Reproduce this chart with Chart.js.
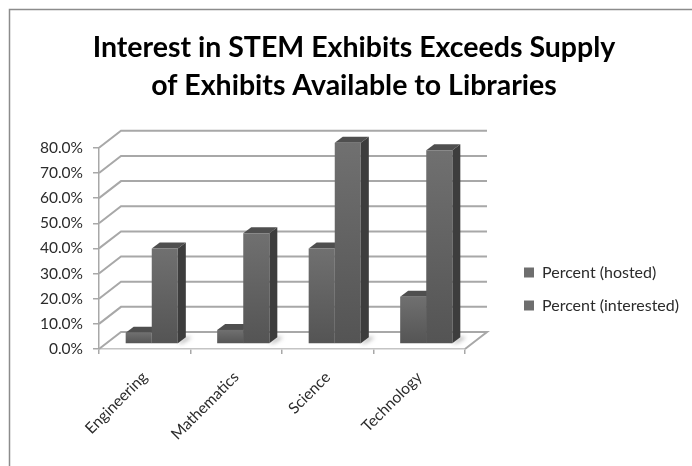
<!DOCTYPE html>
<html>
<head>
<meta charset="utf-8">
<style>
  html, body { margin: 0; padding: 0; background: #fff; }
  #wrap { position: relative; width: 692px; height: 466px; }
</style>
<script src="https://cdn.jsdelivr.net/npm/chart.js@4/dist/chart.umd.min.js"></script>
</head>
<body>
<div id="wrap"><canvas id="chart" width="692" height="466"></canvas></div>
<script>
var categories = ["Engineering", "Mathematics", "Science", "Technology"];
var hosted = [4.5, 5.6, 38, 18.8];
var interested = [38, 44, 80, 77];
var titleLines = ["Interest in STEM Exhibits Exceeds Supply", "of Exhibits Available to Libraries"];

var gridColor = '#a8a8a8';
var wallX = 22, wallY = 17;   // depth of the back wall
var barX = 7, barY = 5;       // bars stand in the middle of the floor
var depthX = 8, depthY = 6;   // depth of one bar

function barFill(ctx) {
    var s = ctx.chart.scales.y;
    var top = s ? s.getPixelForValue(ctx.raw) : NaN;
    var bottom = s ? s.getPixelForValue(0) : NaN;
    if (ctx.type !== 'data' || !isFinite(top) || !isFinite(bottom)) return '#6a6a6a';
    var g = ctx.chart.ctx.createLinearGradient(0, top, 0, bottom);
    g.addColorStop(0, '#707070');
    g.addColorStop(1, '#545454');
    return g;
}

var frame = {
    id: 'frame',
    beforeDraw: function(chart) {
        var c = chart.ctx;
        c.save();
        c.strokeStyle = '#8c8c8c';
        c.lineWidth = 1.5;
        c.beginPath();
        c.moveTo(9.5, 466);
        c.lineTo(9.5, 9.5);
        c.lineTo(692, 9.5);
        c.stroke();
        c.restore();
    }
};

var depth3d = {
    id: 'depth3d',
    afterLayout: function(chart) {
        var l = chart.legend;
        var h = l.bottom - l.top;
        l.left = 507; l.right = 692;
        l.top = 289 - h / 2; l.bottom = 289 + h / 2;
        // title is centred on the whole frame, not the padded box
        var t = chart.titleBlock;
        t.left = 16; t.right = 692;
        t.top -= 43; t.bottom -= 43;
    },
    beforeDatasetsDraw: function(chart) {
        var c = chart.ctx, a = chart.chartArea, y = chart.scales.y;
        c.save();
        // wall lines
        c.strokeStyle = gridColor;
        c.lineWidth = 2;
        y.ticks.forEach(function(t) {
            var p = y.getPixelForValue(t.value);
            c.beginPath();
            c.moveTo(a.left, p);
            c.lineTo(a.left + wallX, p - wallY);
            c.lineTo(a.right + wallX, p - wallY);
            if (t.value === 0) c.lineTo(a.right, p);
            c.stroke();
        });
        c.restore();

        c.save();
        c.translate(barX, -barY);
        var metas = [chart.getDatasetMeta(0), chart.getDatasetMeta(1)];
        // floor shadow
        c.save();
        c.filter = 'blur(2px)';
        c.fillStyle = 'rgba(90,90,90,0.55)';
        metas[1].data.forEach(function(b) {
            var r = b.x + b.width / 2;
            c.beginPath();
            c.moveTo(r, b.base);
            c.lineTo(r + depthX, b.base - depthY);
            c.lineTo(r + depthX + 6, b.base - depthY);
            c.lineTo(r + 4, b.base);
            c.closePath();
            c.fill();
        });
        c.restore();
        metas.forEach(function(m) {
            m.data.forEach(function(b) {
                var l = b.x - b.width / 2, r = b.x + b.width / 2;
                c.fillStyle = '#4f4f4f';
                c.beginPath();
                c.moveTo(l, b.y);
                c.lineTo(l + depthX, b.y - depthY);
                c.lineTo(r + depthX, b.y - depthY);
                c.lineTo(r, b.y);
                c.closePath();
                c.fill();
                c.fillStyle = '#3d3d3d';
                c.beginPath();
                c.moveTo(r, b.y);
                c.lineTo(r + depthX, b.y - depthY);
                c.lineTo(r + depthX, b.base - depthY);
                c.lineTo(r, b.base);
                c.closePath();
                c.fill();
            });
        });
    },
    afterDatasetsDraw: function(chart) {
        chart.ctx.restore();
    }
};

new Chart(document.getElementById("chart").getContext("2d"), {
    type: 'bar',
    data: {
        labels: categories,
        datasets: [
            { label: "Percent (hosted)", data: hosted, backgroundColor: barFill, clip: false },
            { label: "Percent (interested)", data: interested, backgroundColor: barFill, clip: false }
        ]
    },
    options: {
        responsive: false,
        animation: false,
        categoryPercentage: 0.57,
        barPercentage: 1,
        layout: { padding: { top: 66, left: 39, right: 85, bottom: 0 } },
        scales: {
            x: {
                afterFit: function(s) { s.height = 117; },
                grid: { drawOnChartArea: false, color: gridColor, lineWidth: 1.5, tickLength: 5, offset: true },
                border: { color: '#c4c4c4', width: 1.5 },
                ticks: {
                    color: '#2b2b2b', font: { family: 'Lato', size: 15.5 },
                    maxRotation: 45, minRotation: 45, padding: 14
                }
            },
            y: {
                min: 0, max: 80,
                afterFit: function(s) { s.width = 60; },
                grid: { drawOnChartArea: false, color: gridColor, lineWidth: 1.5, tickLength: 6 },
                border: { color: gridColor, width: 1.5 },
                ticks: {
                    stepSize: 10, color: '#2b2b2b', padding: 10,
                    font: { family: 'Lato', size: 15.5 },
                    callback: function(v) { return v.toFixed(1) + '%'; }
                }
            }
        },
        plugins: {
            title: {
                display: true,
                text: titleLines,
                color: '#000',
                font: { family: 'Lato', size: 28.5, weight: 'bold', lineHeight: 1.33 },
                padding: { top: 6, bottom: 0 }
            },
            legend: {
                position: 'right',
                labels: {
                    boxWidth: 10, boxHeight: 10, padding: 17, color: '#2b2b2b',
                    font: { family: 'Lato', size: 16 },
                    generateLabels: function(chart) {
                        var items = Chart.defaults.plugins.legend.labels.generateLabels(chart);
                        items.forEach(function(i) { i.fillStyle = '#6e6e6e'; i.strokeStyle = '#6e6e6e'; i.lineWidth = 0; });
                        return items;
                    }
                }
            },
            tooltip: { enabled: false }
        }
    },
    plugins: [frame, depth3d]
});
</script>
</body>
</html>
